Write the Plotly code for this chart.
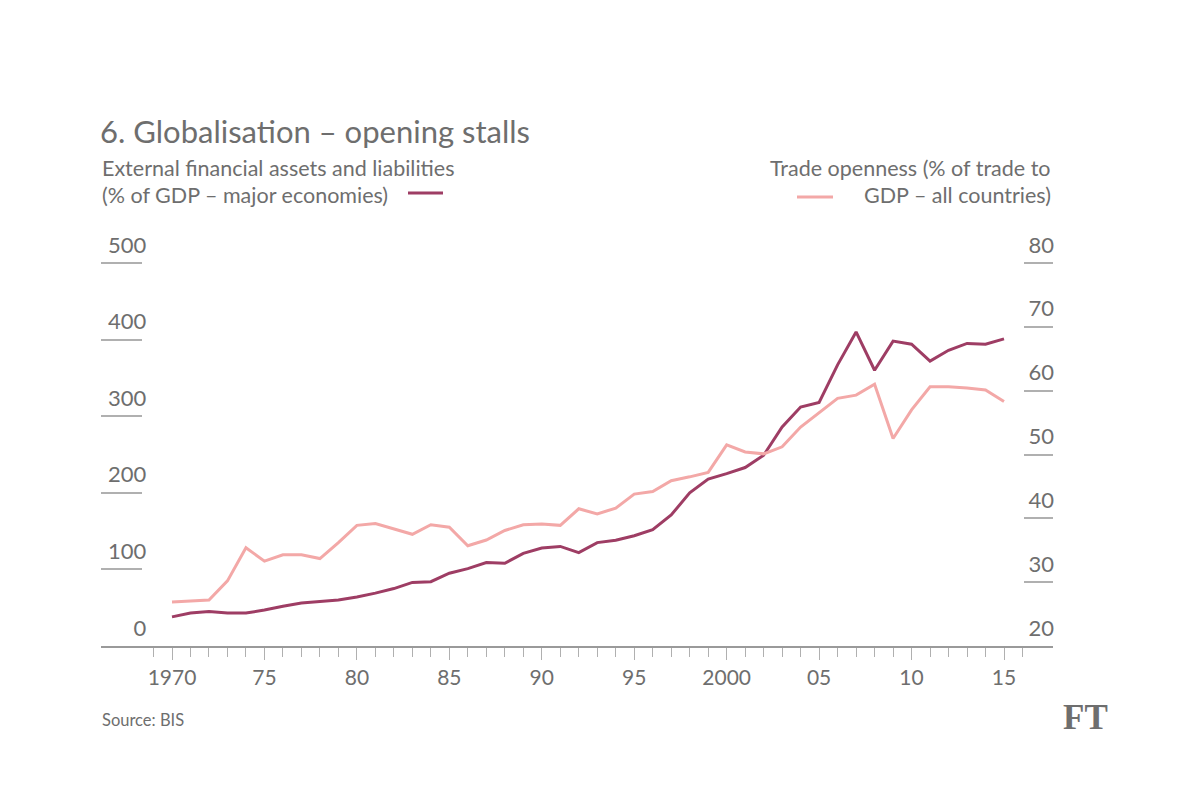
import plotly.graph_objects as go

years = list(range(1970, 2016))

external_assets = [38, 43, 45, 43, 43, 47, 52, 56, 58, 60, 64, 69, 75, 83, 84, 95,
                   101, 109, 108, 121, 128, 130, 122, 135, 138, 144, 152, 171, 200,
                   218, 225, 233, 249, 286, 312, 318, 367, 410, 360, 398, 394, 372,
                   386, 395, 394, 401]

trade_openness = [26.9, 27.0, 27.2, 30.2, 35.4, 33.3, 34.3, 34.3, 33.7, 36.2, 38.9,
                  39.2, 38.3, 37.5, 39.0, 38.6, 35.7, 36.6, 38.1, 39.0, 39.1, 38.9,
                  41.5, 40.7, 41.6, 43.8, 44.2, 45.9, 46.5, 47.2, 51.5, 50.4, 50.1,
                  51.2, 54.3, 56.5, 58.8, 59.3, 61.0, 52.5, 57.0, 60.6, 60.6, 60.4,
                  60.1, 58.3]

x_tickvals = [1970, 1975, 1980, 1985, 1990, 1995, 2000, 2005, 2010, 2015]
x_ticktext = ["1970", "75", "80", "85", "90", "95", "2000", "05", "10", "15"]
left_tickvals = [0, 100, 200, 300, 400, 500]
left_ticktext = ["\u2007\u20070", "100", "200", "300", "400", "500"]
right_tickvals = [20, 30, 40, 50, 60, 70, 80]
right_ticktext = ["20", "30", "40", "50", "60", "70", "80"]

DARK = "#9e3d64"
PINK = "#f3a8a7"
TEXT = "#6e6e6e"
GRID = "#b0b0b0"
FONT = "Lato"

W, H = 1200, 796
plot_l, plot_r, plot_t, plot_b = 101, 1053, 230, 646
left_px_per_unit = (646 - 263) / 500.0
right_px_per_unit = (646 - 263) / 60.0
left_max = (plot_b - plot_t) / left_px_per_unit
right_max = 20 + (plot_b - plot_t) / right_px_per_unit

fig = go.Figure()
fig.add_trace(go.Scatter(x=years, y=trade_openness, mode="lines", yaxis="y2",
                         line=dict(color=PINK, width=3), name="Trade openness",
                         showlegend=False))
fig.add_trace(go.Scatter(x=years, y=external_assets, mode="lines", yaxis="y",
                         line=dict(color=DARK, width=3), name="External financial assets",
                         showlegend=False))

fig.update_layout(
    width=W, height=H,
    margin=dict(l=plot_l, r=W - plot_r, t=plot_t, b=H - plot_b),
    paper_bgcolor="white", plot_bgcolor="white",
    font=dict(family=FONT, color=TEXT),
    title=dict(text="6. Globalisation \u2013 opening stalls", x=100 / W, xref="container",
               y=1 - 132 / H, yref="container", xanchor="left", yanchor="middle",
               font=dict(family=FONT, size=31, color=TEXT)),
    xaxis=dict(range=[1966.16, 2017.65], showgrid=False, zeroline=False,
               showline=True, linecolor="#9a9a9a", linewidth=1.5,
               tickmode="array", tickvals=x_tickvals, ticktext=x_ticktext,
               ticks="outside", ticklen=12, tickwidth=1, tickcolor=GRID,
               tickfont=dict(family=FONT, size=21, color=TEXT),
               minor=dict(ticks="outside", ticklen=9, tickwidth=1, tickcolor=GRID,
                          dtick=1, tick0=1970, showgrid=False)),
    yaxis=dict(range=[0, left_max], showgrid=False, zeroline=False, showline=False,
               tickmode="array", tickvals=left_tickvals, ticktext=left_ticktext,
               ticks="inside", ticklen=41, tickwidth=1.5, tickcolor=GRID,
               ticklabelposition="inside top", ticklabelstandoff=4, ticklabelshift=-2,
               tickfont=dict(family=FONT, size=22, color=TEXT)),
    yaxis2=dict(range=[20, right_max], overlaying="y", side="right", showgrid=False,
                zeroline=False, showline=False,
                tickmode="array", tickvals=right_tickvals, ticktext=right_ticktext,
                ticks="inside", ticklen=29, tickwidth=1.5, tickcolor=GRID,
                ticklabelposition="inside top", ticklabelstandoff=-4, ticklabelshift=-2,
                tickfont=dict(family=FONT, size=22, color=TEXT)),
)


def paper_x(p):
    return (p - plot_l) / (plot_r - plot_l)


def paper_y(p):
    return (plot_b - p) / (plot_b - plot_t)


texts = [
    ("External financial assets and liabilities", 100, 168, "left", 21.5, FONT),
    ("(% of GDP \u2013 major economies)", 100, 195, "left", 21.5, FONT),
    ("Trade openness (% of trade to", 1053, 168, "right", 21.5, FONT),
    ("GDP \u2013 all countries)", 1053, 195, "right", 21.5, FONT),
    ("Source: BIS", 100, 720, "left", 16.5, FONT),
    ("<b>FT</b>", 1110, 717, "right", 35, "Liberation Serif"),
]
for txt, x, y, anchor, size, fam in texts:
    fig.add_annotation(xref="paper", yref="paper", x=paper_x(x), y=paper_y(y),
                       xanchor=anchor, yanchor="middle", showarrow=False, text=txt,
                       font=dict(family=fam, size=size, color=TEXT))

fig.add_shape(type="line", xref="paper", yref="paper",
              x0=paper_x(408), x1=paper_x(443), y0=paper_y(193), y1=paper_y(193),
              line=dict(color=DARK, width=3))
fig.add_shape(type="line", xref="paper", yref="paper",
              x0=paper_x(797), x1=paper_x(833), y0=paper_y(197), y1=paper_y(197),
              line=dict(color=PINK, width=3))

fig.write_html("out.html", config={"displayModeBar": False},
               post_script="document.body.style.margin='0px';")
